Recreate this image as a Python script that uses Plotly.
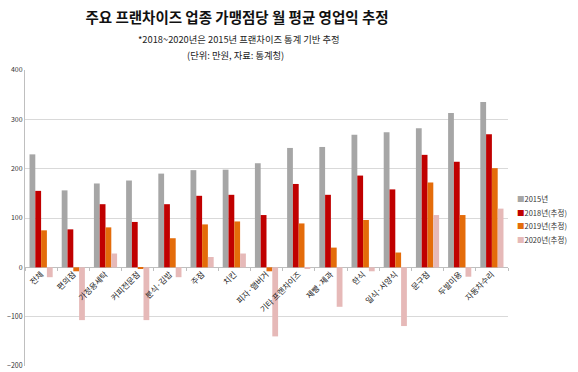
import plotly.graph_objects as go

categories = ["전체", "편의점", "가정용세탁", "커피전문점", "분식·김밥", "주점", "치킨",
              "피자·햄버거", "기타 프랜차이즈", "제빵·제과", "한식", "일식·서양식",
              "문구점", "두발미용", "자동차수리"]
v2015 = [229, 156, 170, 176, 190, 197, 198, 211, 242, 244, 269, 274, 282, 313, 335]
v2018 = [155, 77, 128, 92, 128, 145, 147, 106, 169, 147, 186, 158, 228, 214, 270]
v2019 = [75, -8, 81, -2, 59, 87, 93, -8, 89, 40, 96, 30, 172, 106, 201]
v2020 = [-20, -107, 28, -107, -20, 21, 28, -140, -2, -80, -8, -119, 106, -19, 119]

series = [("2015년", v2015, "#A6A6A6"),
          ("2018년(추정)", v2018, "#C00000"),
          ("2019년(추정)", v2019, "#E46C0A"),
          ("2020년(추정)", v2020, "#E6B9B8")]

FONT = "Noto Sans CJK KR"
T, B, L, R = 70, 6, 25, 70
PH = 372 - T - B
PW = 578 - L - R

def px_x(x):
    return (x - L) / PW

def px_y(y):
    return (372 - B - y) / PH

fig = go.Figure()
for name, vals, col in series:
    fig.add_trace(go.Bar(x=categories, y=vals, name=name, marker_color=col,
                         marker_line_width=0, showlegend=False))

fig.update_layout(
    width=578, height=372,
    margin=dict(l=L, r=R, t=T, b=B),
    paper_bgcolor="white", plot_bgcolor="white",
    barmode="group", bargap=0.28, bargroupgap=0,
    font=dict(family=FONT, color="#333333"),
    title=dict(text="<b>주요 프랜차이즈 업종 가맹점당 월 평균 영업익 추정</b>",
               x=237/578, xanchor="center", y=1-18/372, yanchor="middle",
               font=dict(size=14.5, color="#111111", family=FONT)),
    showlegend=False,
)

fig.add_annotation(text="*2018~2020년은 2015년 프랜차이즈 통계 기반 추정",
                   xref="paper", yref="paper", x=px_x(239), y=px_y(39),
                   xanchor="center", yanchor="middle", showarrow=False,
                   font=dict(size=9.3, color="#222222", family=FONT))
fig.add_annotation(text="(단위: 만원, 자료: 통계청)",
                   xref="paper", yref="paper", x=px_x(235), y=px_y(55),
                   xanchor="center", yanchor="middle", showarrow=False,
                   font=dict(size=9.3, color="#222222", family=FONT))

# legend drawn as text with coloured square glyphs
leg_y = [198, 212, 225, 239]
for (name, vals, col), yy in zip(series, leg_y):
    fig.add_annotation(text=f"<span style='color:{col}'>■</span>{name}",
                       xref="paper", yref="paper", x=px_x(516), y=px_y(yy),
                       xanchor="left", yanchor="middle", showarrow=False,
                       borderpad=0,
                       font=dict(size=7.5, color="#333333", family=FONT))

fig.update_yaxes(range=[-200, 400], dtick=100, showgrid=True, gridcolor="#D9D9D9",
                 gridwidth=1, zeroline=True, zerolinecolor="#BFBFBF", zerolinewidth=1,
                 showline=True, linecolor="#BFBFBF", linewidth=1, automargin=False,
                 tickfont=dict(size=7, color="#333333"), ticks="", fixedrange=True)
fig.update_xaxes(anchor="free", position=1/3, tickangle=-45, showline=False,
                 showgrid=False, ticks="outside", tickson="boundaries", ticklen=3,
                 automargin=False, fixedrange=True,
                 tickcolor="#BFBFBF", tickfont=dict(size=8, color="#222222"))

fig.write_html("out.html", config={"displayModeBar": False},
               post_script="document.body.style.margin='0';")
